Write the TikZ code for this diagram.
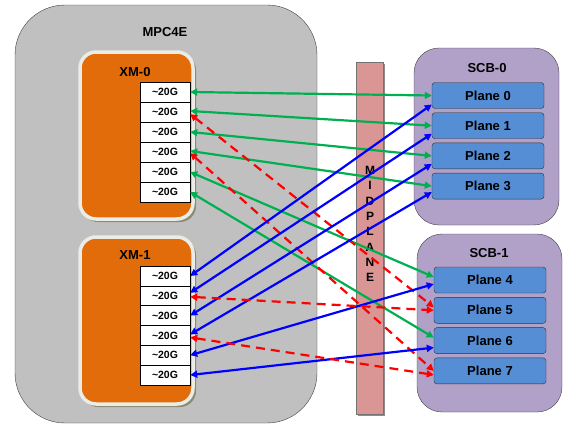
\documentclass[tikz,border=0pt]{standalone}
\usepackage{fontspec}
\setmainfont{Liberation Sans}
\usetikzlibrary{arrows.meta}
\definecolor{mpcgray}{HTML}{C0C0C0}
\definecolor{xmorange}{HTML}{E36C0A}
\definecolor{xmrim}{HTML}{ECECE6}
\definecolor{xmshadow}{HTML}{8C8C74}
\definecolor{scbpurple}{HTML}{B1A0C7}
\definecolor{planeblue}{HTML}{558ED5}
\definecolor{midpink}{HTML}{D99694}
\definecolor{linkgreen}{HTML}{00B050}

\begin{document}
\begin{tikzpicture}[x=1pt, y=-1pt,
	port/.style={draw, fill=white, minimum width=50pt, minimum height=20pt, inner sep=0pt, font=\fontsize{10.5}{12}\selectfont\bfseries},
	plane/.style={draw=black!80, fill=planeblue, rounded corners=3pt, minimum width=112pt, minimum height=26pt, inner sep=0pt, font=\fontsize{13}{15}\selectfont\bfseries},
	title/.style={font=\fontsize{13}{15}\selectfont\bfseries},
	link/.style={line width=2.2pt, {Triangle[length=7pt,width=7pt]}-{Triangle[length=7pt,width=7pt]}},
	glink/.style={link, linkgreen},
	blink/.style={link, blue},
	rlink/.style={link, red, dash pattern=on 9pt off 6pt}]
	\useasboundingbox (0,0) rectangle (578,429);
	% line card
	\draw[fill=mpcgray, draw=black!75, rounded corners=50pt] (15,5) rectangle (317,423);
	\node[title] (mpc) at (165,32) {MPC4E};
	% XM chips
	\fill[xmshadow, rounded corners=16pt] (82,54) rectangle (196,222);
	\draw[fill=xmorange, draw=xmrim, line width=3.5pt, rounded corners=16pt] (80,52) rectangle (193,219);
	\node[title] (xm0) at (135,72) {XM-0};
	\fill[xmshadow, rounded corners=16pt] (82,239) rectangle (196,407);
	\draw[fill=xmorange, draw=xmrim, line width=3.5pt, rounded corners=16pt] (80,237) rectangle (193,404);
	\node[title] (xm1) at (135,255) {XM-1};
	\foreach \i in {0,...,5} {
		\node[port] (a\i) at (165,92+20*\i) {\textasciitilde 20G};
		\node[port] (b\i) at (165,276+19.8*\i) {\textasciitilde 20G};
	}
	% midplane
	\fill[black!45] (358,64) rectangle (385,416);
	\draw[fill=midpink, draw=black!55] (356,62) rectangle (383,414);
	\node[align=center, inner sep=0pt, font=\fontsize{12}{15.3}\selectfont\bfseries] (mid) at (370,224) {M\\I\\D\\P\\L\\A\\N\\E};
	% switch boards
	\draw[fill=scbpurple, draw=black!75, rounded corners=25pt] (414,48) rectangle (559,225);
	\node[title] (scb0) at (487,68) {SCB-0};
	\draw[fill=scbpurple, draw=black!75, rounded corners=25pt] (417,234) rectangle (562,412);
	\node[title] (scb1) at (489,253) {SCB-1};
	\foreach \i in {0,...,3} {
		\node[plane] (p\i) at (488,95.5+30.2*\i) {Plane \i};
	}
	\foreach \i in {4,...,7} {
		\node[plane] (p\i) at (490,280+30.3*\i-121.2) {Plane \i};
	}
	% XM-0 links
	\draw[glink] (a0.east) -- (p0.west);
	\draw[glink] ([yshift=1pt]a1.east) -- (p1.west);
	\draw[glink] (a2.east) -- (p2.west);
	\draw[glink] ([yshift=1pt]a3.east) -- (p3.west);
	\draw[glink] (a4.east) -- ([yshift=3pt]p4.west);
	\draw[glink] (a5.east) -- ([yshift=3pt]p6.west);
	\draw[rlink] ([yshift=-2pt]a1.east) -- ([yshift=3pt]p5.west);
	\draw[rlink] ([yshift=-1pt]a3.east) -- (p7.west);
	% XM-1 links
	\draw[blink] (b0.east) -- ([yshift=-9pt]p0.west);
	\draw[blink] ([yshift=3pt]b1.east) -- ([yshift=-8pt]p1.west);
	\draw[blink] (b2.east) -- ([yshift=-8pt]p2.west);
	\draw[blink] ([yshift=1pt]b3.east) -- ([yshift=-6pt]p3.west);
	\draw[blink] (b4.east) -- ([yshift=-4pt]p4.west);
	\draw[blink] (b5.east) -- ([yshift=-7pt]p6.west);
	\draw[rlink] ([yshift=-1pt]b1.east) -- (p5.west);
	\draw[rlink] ([yshift=-2pt]b3.east) -- ([yshift=-4pt]p7.west);
\end{tikzpicture}
\end{document}
